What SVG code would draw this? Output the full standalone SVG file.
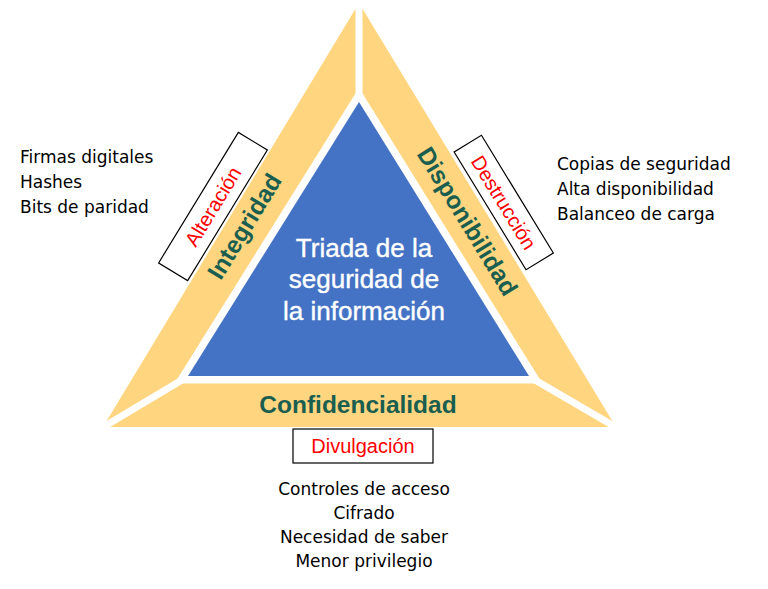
<svg xmlns="http://www.w3.org/2000/svg" width="768" height="589" viewBox="0 0 768 589">
<style>
.list{font-family:"DejaVu Sans","Liberation Sans",sans-serif;font-size:17px;fill:#000}
.green{font-family:"Liberation Sans",Arial,sans-serif;font-weight:bold;font-size:24.5px;fill:#1A5E4F}
.red{font-family:"Liberation Sans",Arial,sans-serif;font-size:20px;fill:#FF0000}
.title{font-family:"Liberation Sans",Arial,sans-serif;font-size:26px;fill:#FFFFFF;stroke:#FFFFFF;stroke-width:0.4}
.box{fill:#FFFFFF;stroke:#000;stroke-width:1.2}
.sep{stroke:#FFFFFF;stroke-width:7;fill:none}
</style>
<rect width="768" height="589" fill="#FFFFFF"/>
<g id="triad">
<polygon points="359,3 103,427 616,427" fill="#FFD580"/>
<polygon points="359,102 188,376 529,376" fill="#4472C4" stroke="#FFFFFF" stroke-width="15" stroke-linejoin="miter" paint-order="stroke"/>
</g>
<g id="connectors">
<line class="sep" x1="359" y1="0" x2="359" y2="96"/>
<line class="sep" x1="100" y1="429" x2="182" y2="380"/>
<line class="sep" x1="619" y1="429" x2="535" y2="380"/>
</g>
<g id="center">
<text class="title" x="364" y="257" text-anchor="middle">Triada de la</text>
<text class="title" x="364" y="288" text-anchor="middle">seguridad de</text>
<text class="title" x="364" y="320" text-anchor="middle">la información</text>
</g>
<g id="integridad">
<text class="green" transform="translate(244,226) rotate(-58.6)" x="0" y="9" text-anchor="middle">Integridad</text>
</g>
<g id="alteracion">
<g transform="translate(213,206.5) rotate(-58.6)">
<rect class="box" x="-76.5" y="-17" width="153" height="34"/>
<text class="red" x="0" y="7" text-anchor="middle">Alteración</text>
</g>
</g>
<g id="disponibilidad">
<text class="green" transform="translate(468,221) rotate(58.6)" x="0" y="9" text-anchor="middle">Disponibilidad</text>
</g>
<g id="destruccion">
<g transform="translate(503.75,202.5) rotate(58.6)">
<rect class="box" x="-69" y="-16" width="138" height="32"/>
<text class="red" x="0" y="7" text-anchor="middle">Destrucción</text>
</g>
</g>
<g id="confidencialidad">
<text class="green" x="358" y="413" text-anchor="middle" font-size="23">Confidencialidad</text>
</g>
<g id="divulgacion">
<rect class="box" x="293" y="429" width="140" height="34"/>
<text class="red" x="363" y="453" text-anchor="middle">Divulgación</text>
</g>
<g id="list-integridad">
<text class="list" x="20" y="163">Firmas digitales</text>
<text class="list" x="20" y="188">Hashes</text>
<text class="list" x="20" y="213">Bits de paridad</text>
</g>
<g id="list-disponibilidad">
<text class="list" x="557" y="170">Copias de seguridad</text>
<text class="list" x="557" y="195">Alta disponibilidad</text>
<text class="list" x="557" y="220">Balanceo de carga</text>
</g>
<g id="list-confidencialidad">
<text class="list" x="364" y="495" text-anchor="middle">Controles de acceso</text>
<text class="list" x="364" y="519" text-anchor="middle">Cifrado</text>
<text class="list" x="364" y="543" text-anchor="middle">Necesidad de saber</text>
<text class="list" x="364" y="567" text-anchor="middle">Menor privilegio</text>
</g>
</svg>
